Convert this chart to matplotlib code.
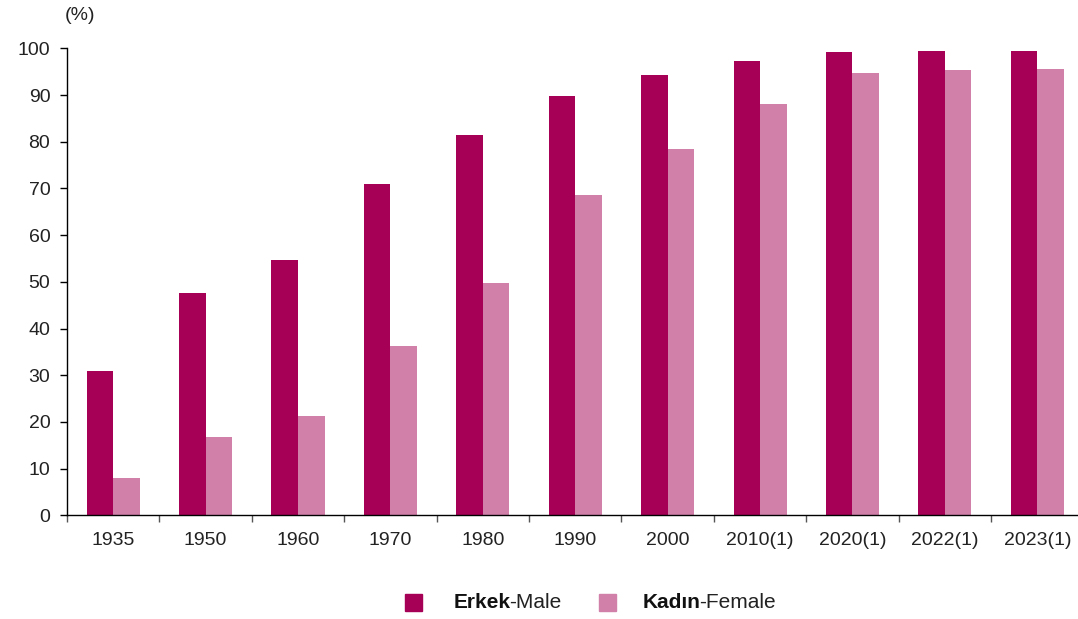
import matplotlib
matplotlib.use("Agg")
import matplotlib.pyplot as plt
from matplotlib.patches import Rectangle
import numpy as np

plt.rcParams['font.family'] = ['Liberation Sans', 'DejaVu Sans']

# Okuma-yazma oranı (%)
years = ["1935", "1950", "1960", "1970", "1980", "1990", "2000",
         "2010(1)", "2020(1)", "2022(1)", "2023(1)"]
male = [30.8, 47.6, 54.7, 70.9, 81.4, 89.8, 94.3, 97.3, 99.2, 99.4, 99.4]
female = [8.0, 16.8, 21.2, 36.3, 49.8, 68.5, 78.4, 88.1, 94.8, 95.4, 95.6]

c_male = "#A50055"
c_female = "#D180AA"

fig = plt.figure(figsize=(10.78, 6.19), dpi=100)
W, H = 1078, 619
ax = fig.add_axes([67/W, (H-515.3)/H, (1077-67)/W, (515.3-48.3)/H])

x = np.arange(len(years))
bw = 0.287
ax.bar(x - bw/2, male, bw, color=c_male, linewidth=0)
ax.bar(x + bw/2, female, bw, color=c_female, linewidth=0)

ax.set_ylim(0, 100)
ax.set_xlim(-0.5, 10.43)
ax.set_yticks(range(0, 101, 10))
ax.set_xticks(x)
ax.set_xticklabels(years)
ax.set_xticks(np.arange(-0.5, 10, 1), minor=True)
ax.tick_params(axis='x', which='major', length=0, pad=12, labelsize=14, colors='#222222')
ax.tick_params(axis='x', which='minor', length=5, width=1, color='#555555')
ax.tick_params(axis='y', length=5, width=1, pad=7, labelsize=14, colors='#222222')
ax.tick_params(axis='y', color='black')
for s in ['top', 'right']:
    ax.spines[s].set_visible(False)
for s in ['left', 'bottom']:
    ax.spines[s].set_linewidth(1)

fig.text(65/W, 1 - 16/H, "(%)", fontsize=14, ha='left', va='center', color='#222222')

# legend, drawn by hand because of the bold/normal mix
def legend_item(x_sq, x_txt, color, bold, rest):
    fig.patches.append(Rectangle((x_sq/W, 1 - 610.7/H), 17/W, 17/H,
                                 transform=fig.transFigure, color=color, figure=fig))
    t = fig.text(x_txt/W, 1 - 602/H, bold, fontsize=15, fontweight='bold',
                 ha='left', va='center', color='#111111')
    fig.canvas.draw()
    bb = t.get_window_extent()
    fig.text((bb.x1 - 1.5)/W, 1 - 602/H, rest, fontsize=15, ha='left', va='center', color='#222222')

legend_item(405, 454, c_male, "Erkek", "-Male")
legend_item(599, 643, c_female, "Kadın", "-Female")

fig.savefig("out.png", dpi=100)
